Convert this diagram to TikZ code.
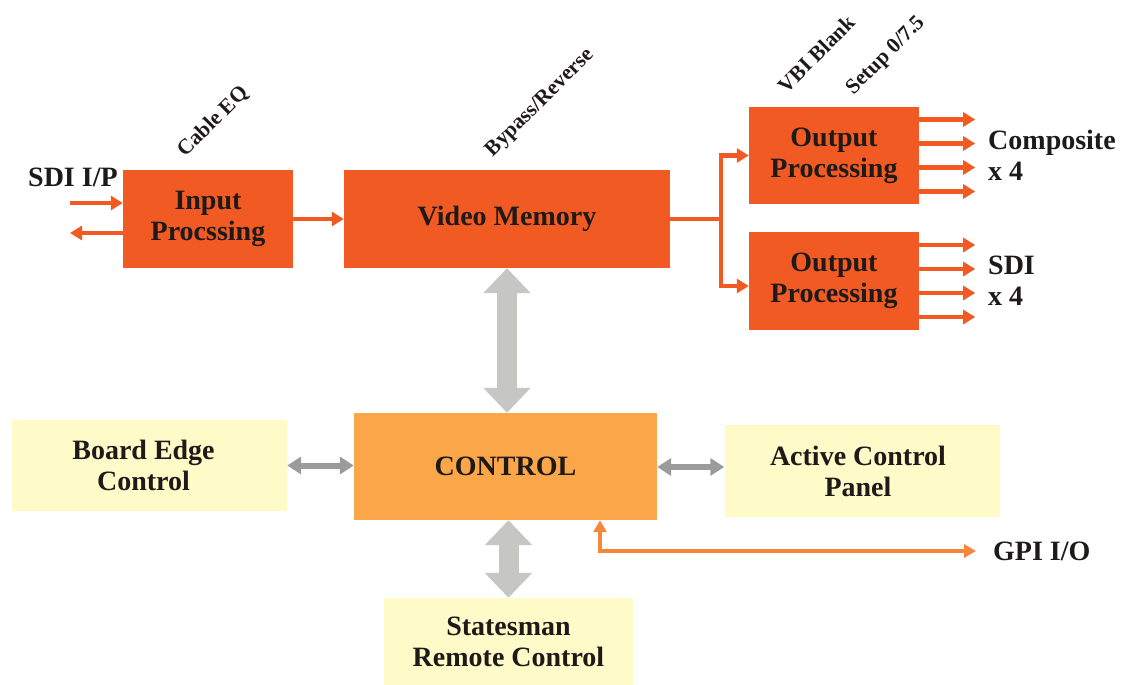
\documentclass[tikz,border=0pt]{standalone}
\usepackage{fontspec}
\setmainfont{Liberation Serif}
\usetikzlibrary{arrows.meta}
\definecolor{ored}{HTML}{F15A22}
\definecolor{octl}{HTML}{FBA649}
\definecolor{lyel}{HTML}{FFFBC9}
\definecolor{lgray}{HTML}{C6C6C4}
\definecolor{dgray}{HTML}{9B9B9B}
\definecolor{gpic}{HTML}{F5873D}
\definecolor{txt}{HTML}{1E1A1A}
\begin{document}
\begin{tikzpicture}[x=1pt,y=-1pt,
  bigfont/.style={font=\bfseries\fontsize{28}{31}\selectfont},
  smallfont/.style={font=\bfseries\fontsize{21.5}{24}\selectfont},
  blk/.style={bigfont, fill=ored, draw=none, inner sep=0pt, align=center, text=txt},
  ctlbox/.style={bigfont, fill=octl, draw=none, inner sep=0pt, align=center, text=txt},
  ybox/.style={bigfont, fill=lyel, draw=none, inner sep=0pt, align=center, text=txt},
  lbl/.style={bigfont, inner sep=0pt, align=left, text=txt},
  rlbl/.style={smallfont, inner sep=0pt, rotate=45, text=txt},
  oarr/.style={draw=ored, line width=4.5pt, -{Triangle[width=14pt,length=12pt]}},
  oline/.style={draw=ored, line width=4.5pt},
  garr/.style={draw=gpic, line width=3.5pt, {Triangle[width=13pt,length=12pt]}-{Triangle[width=13pt,length=12pt]}},
  bigarr/.style={draw=lgray, line width=20pt, {Triangle[width=46pt,length=25pt]}-{Triangle[width=46pt,length=25pt]}},
  sarr/.style={draw=dgray, line width=6pt, {Triangle[width=17pt,length=14pt]}-{Triangle[width=17pt,length=14pt]}}
]
\useasboundingbox (0,0) rectangle (1122,685);

% blocks
\node[blk, minimum width=170pt, minimum height=98pt] (in) at (208,219) {Input\\Procssing};
\node[blk, minimum width=326pt, minimum height=98pt] (vm) at (507,219) {Video Memory};
\node[blk, minimum width=170pt, minimum height=97pt] (out1) at (834,155.5) {Output\\Processing};
\node[blk, minimum width=170pt, minimum height=98pt] (out2) at (834,281) {Output\\Processing};
\node[ctlbox, minimum width=303pt, minimum height=107pt] (ctl) at (505.5,466.5) {CONTROL};
\node[ybox, minimum width=275pt, minimum height=91pt] (board) at (149.5,465.5) {Board Edge\hspace*{12pt}\\Control\hspace*{12pt}};
\node[ybox, minimum width=275pt, minimum height=92pt] (act) at (862,471) {Active Control\hspace*{8pt}\\Panel\hspace*{8pt}};
\node[ybox, minimum width=249pt, minimum height=87pt] (stm) at (508.5,641.5) {Statesman\\Remote Control};

% labels
\node[lbl, anchor=west] (sdiip) at (28,177) {SDI I/P};
\node[lbl, anchor=west] (comp) at (988,155.5) {Composite\\x 4};
\node[lbl, anchor=west] (sdio) at (988,281) {SDI\\x 4};
\node[lbl, anchor=west] (gpi) at (993,551) {GPI I/O};
\node[rlbl] (ceq) at (213,122) {Cable EQ};
\node[rlbl] (byp) at (540,103) {Bypass/Reverse};
\node[rlbl] (vbi) at (816,54) {VBI Blank};
\node[rlbl] (setup) at (886,56) {Setup 0/7.5};

% input arrows
\coordinate (sin) at (70,203);
\coordinate (sout) at (70,233);
\draw[oarr] (sin) -- (sin -| in.west);
\draw[oarr] (sout -| in.west) -- (sout);
\draw[oarr] (in.east) -- (vm.west);

% branch to outputs
\coordinate (br) at (721,219);
\draw[oline] (vm.east) -- (br);
\draw[oarr] (br) |- (out1.west);
\draw[oarr] (br) |- ([yshift=-5pt]out2.west);

% output arrows
\foreach \dy in {-36,-12,12,36} {
  \draw[oarr] ([yshift=\dy pt]out1.east) -- ++(56,0);
  \draw[oarr] ([yshift=\dy pt]out2.east) -- ++(56,0);
}

% control connections
\draw[bigarr] (vm.south) -- (vm.south |- ctl.north);
\draw[bigarr] (ctl.south -| stm.north) -- (stm.north);
\draw[sarr] (board.east) -- (board.east -| ctl.west);
\draw[sarr] ([yshift=4pt]act.west -| ctl.east) -- ([yshift=4pt]act.west);

% GPI
\coordinate (gc) at (600,551);
\coordinate (ge) at (976,551);
\draw[garr, line join=miter] (ctl.south -| gc) -- (gc) -- (ge);
\end{tikzpicture}
\end{document}
